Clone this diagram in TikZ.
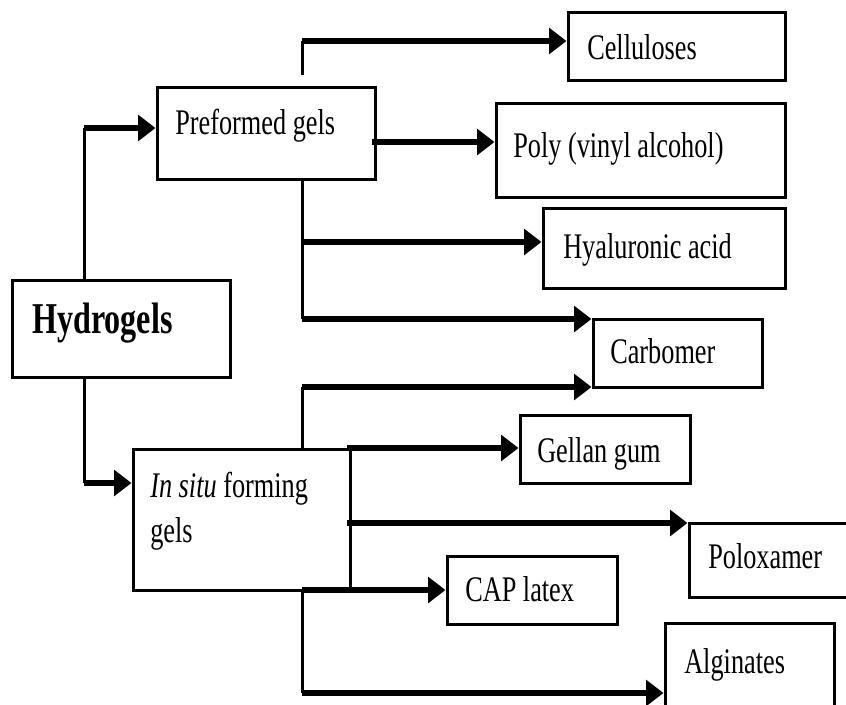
\documentclass[tikz,border=0pt]{standalone}
\usepackage{fontspec}
\setmainfont{Liberation Serif}[FakeStretch=0.73]
\usetikzlibrary{arrows.meta,fit}
\begin{document}
\begin{tikzpicture}[x=0.75pt,y=-0.75pt,
  box/.style={draw, line width=2.25pt, inner sep=0pt},
  lbl/.style={inner sep=0pt, anchor=base west, font=\fontsize{27pt}{30pt}\selectfont},
  biglbl/.style={inner sep=0pt, anchor=base west, font=\fontsize{33pt}{38pt}\selectfont\bfseries},
  thinline/.style={line width=2.25pt},
  arr/.style={line width=4.5pt, -{Triangle[length=13pt,width=19pt]}}]
\clip (0,0) rectangle (846,704);
\fill[white] (0,0) rectangle (846,704);
% boxes
\node[box, fit={(12,280) (230,377)}] (hyd) {};
\node[box, fit={(157,87) (375,179)}] (pre) {};
\node[box, fit={(568,12) (785,80)}] (cel) {};
\node[box, fit={(496,103) (785,197)}] (pva) {};
\node[box, fit={(543,208) (785,288)}] (hya) {};
\node[box, fit={(593,319) (762,387)}] (carb) {};
\node[box, fit={(520,415) (690,483)}] (gel) {};
\node[box, fit={(133,449) (350,590)}] (ins) {};
\node[box, fit={(689,523) (880,597)}] (pol) {};
\node[box, fit={(447,556) (617,624)}] (cap) {};
\node[box, fit={(665,623) (834,740)}] (alg) {};
% labels
\node[biglbl] (thyd) at (32,333) {Hydrogels};
\node[lbl] (tpre) at (175,134) {Preformed gels};
\node[lbl] (tcel) at (587,59) {Celluloses};
\node[lbl] (tpva) at (513,157) {Poly (vinyl alcohol)};
\node[lbl] (thya) at (563,258) {Hyaluronic acid};
\node[lbl] (tcarb) at (610,363) {Carbomer};
\node[lbl] (tgel) at (537,462) {Gellan gum};
\node[lbl] (tins) at (150,497) {\textit{In situ} forming};
\node[lbl] (tins2) at (150,542) {gels};
\node[lbl] (tpol) at (708,568) {Poloxamer};
\node[lbl] (tcap) at (465,601) {CAP latex};
\node[lbl] (talg) at (684,673) {Alginates};
% Hydrogels branches
\coordinate (a1) at (84,128);
\coordinate (a2) at (84,483);
\draw[thinline] (hyd.north -| a1) -- (a1);
\draw[arr] (a1) -- (pre.west |- a1);
\draw[thinline] (hyd.south -| a2) -- (a2);
\draw[arr] (a2) -- (ins.west |- a2);
% Preformed gels branches
\coordinate (c0) at (302,41);
\coordinate (d0) at (372,142);
\coordinate (b1) at (302,242);
\coordinate (b2) at (302,319);
\draw[thinline, shorten <=8pt] (pre.north -| c0) -- (c0);
\draw[arr] (c0) -- (cel.west |- c0);
\draw[arr] (d0) -- (pva.west |- d0);
\draw[thinline] (pre.south -| b2) -- (b2);
\draw[arr] (b1) -- (hya.west |- b1);
\draw[arr] (b2) -- (carb.west |- b2);
% In situ branches
\coordinate (e0) at (302,387);
\coordinate (e1) at (347,448);
\coordinate (e2) at (347,523);
\coordinate (f0) at (302,590);
\coordinate (f1) at (302,693);
\draw[thinline] (ins.north -| e0) -- (e0);
\draw[arr] (e0) -- (carb.west |- e0);
\draw[arr] (e1) -- (gel.west |- e1);
\draw[arr] (e2) -- (pol.west |- e2);
\draw[arr] (f0) -- (cap.west |- f0);
\draw[thinline] (f0) -- (f1);
\draw[arr] (f1) -- (alg.west |- f1);
\end{tikzpicture}
\end{document}
